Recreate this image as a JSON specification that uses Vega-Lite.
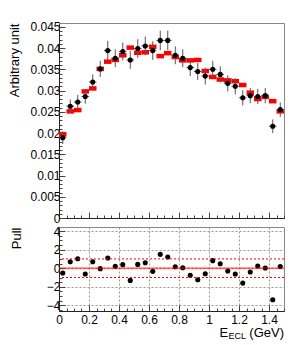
{
  "$schema": "https://vega.github.io/schema/vega-lite/v6.json",
  "padding": {"left": 8, "top": 20, "right": 15, "bottom": 5},
  "spacing": 9,
  "bounds": "flush",
  "data": {"values": [
    {"x": 0.025, "data": 0.0189, "err": 0.0015, "model": 0.0197, "pull": -0.52},
    {"x": 0.075, "data": 0.0263, "err": 0.0016, "model": 0.0251, "pull": 0.70},
    {"x": 0.125, "data": 0.0273, "err": 0.0017, "model": 0.0254, "pull": 1.02},
    {"x": 0.175, "data": 0.0286, "err": 0.0017, "model": 0.0298, "pull": -0.63},
    {"x": 0.225, "data": 0.0320, "err": 0.0018, "model": 0.0305, "pull": 0.70},
    {"x": 0.275, "data": 0.0351, "err": 0.0019, "model": 0.0351, "pull": -0.05},
    {"x": 0.325, "data": 0.0394, "err": 0.0023, "model": 0.0368, "pull": 1.09},
    {"x": 0.375, "data": 0.0376, "err": 0.0021, "model": 0.0372, "pull": 0.20},
    {"x": 0.425, "data": 0.0392, "err": 0.0021, "model": 0.0383, "pull": 0.38},
    {"x": 0.475, "data": 0.0372, "err": 0.0021, "model": 0.0401, "pull": -1.31},
    {"x": 0.525, "data": 0.0399, "err": 0.0022, "model": 0.0389, "pull": 0.41},
    {"x": 0.575, "data": 0.0405, "err": 0.0022, "model": 0.0390, "pull": 0.59},
    {"x": 0.625, "data": 0.0394, "err": 0.0022, "model": 0.0403, "pull": -0.34},
    {"x": 0.675, "data": 0.0418, "err": 0.0023, "model": 0.0381, "pull": 1.49},
    {"x": 0.725, "data": 0.0418, "err": 0.0023, "model": 0.0388, "pull": 1.20},
    {"x": 0.775, "data": 0.0383, "err": 0.0021, "model": 0.0379, "pull": 0.16},
    {"x": 0.825, "data": 0.0376, "err": 0.0021, "model": 0.0371, "pull": 0.05},
    {"x": 0.875, "data": 0.0354, "err": 0.0020, "model": 0.0371, "pull": -0.77},
    {"x": 0.925, "data": 0.0345, "err": 0.0020, "model": 0.0372, "pull": -1.24},
    {"x": 0.975, "data": 0.0334, "err": 0.0020, "model": 0.0346, "pull": -0.59},
    {"x": 1.025, "data": 0.0350, "err": 0.0020, "model": 0.0332, "pull": 0.81},
    {"x": 1.075, "data": 0.0338, "err": 0.0019, "model": 0.0326, "pull": 0.48},
    {"x": 1.125, "data": 0.0317, "err": 0.0019, "model": 0.0324, "pull": -0.30},
    {"x": 1.175, "data": 0.0310, "err": 0.0019, "model": 0.0322, "pull": -0.63},
    {"x": 1.225, "data": 0.0283, "err": 0.0018, "model": 0.0313, "pull": -1.60},
    {"x": 1.275, "data": 0.0288, "err": 0.0018, "model": 0.0295, "pull": -0.41},
    {"x": 1.325, "data": 0.0286, "err": 0.0018, "model": 0.0280, "pull": 0.23},
    {"x": 1.375, "data": 0.0288, "err": 0.0018, "model": 0.0285, "pull": 0.02},
    {"x": 1.425, "data": 0.0216, "err": 0.0016, "model": 0.0275, "pull": -3.39},
    {"x": 1.475, "data": 0.0255, "err": 0.0017, "model": 0.0251, "pull": 0.19}
  ]},
  "vconcat": [
    {
      "width": 225,
      "height": 195,
      "layer": [
        {
          "mark": {"type": "tick", "orient": "horizontal", "color": "#ff0000", "size": 7.5, "thickness": 4.5, "opacity": 1},
          "encoding": {
            "x": {"field": "x", "type": "quantitative", "scale": {"domain": [0, 1.5], "nice": false},
              "axis": {"values": [0,0.05,0.1,0.15,0.2,0.25,0.3,0.35,0.4,0.45,0.5,0.55,0.6,0.65,0.7,0.75,0.8,0.85,0.9,0.95,1,1.05,1.1,1.15,1.2,1.25,1.3,1.35,1.4,1.45,1.5], "labels": false, "title": null, "grid": false, "minExtent": 0, "maxExtent": 0,
                "tickSize": {"condition": {"test": "abs(datum.value*5 - round(datum.value*5)) < 0.01", "value": -6}, "value": -3}}},
            "y": {"field": "model", "type": "quantitative", "scale": {"domain": [0, 0.0459], "nice": false},
              "axis": {"values": [0,0.001,0.002,0.003,0.004,0.005,0.006,0.007,0.008,0.009,0.01,0.011,0.012,0.013,0.014,0.015,0.016,0.017,0.018,0.019,0.02,0.021,0.022,0.023,0.024,0.025,0.026,0.027,0.028,0.029,0.03,0.031,0.032,0.033,0.034,0.035,0.036,0.037,0.038,0.039,0.04,0.041,0.042,0.043,0.044,0.045], "format": "~g",
                "labelExpr": "abs(datum.value*200 - round(datum.value*200)) < 0.01 ? datum.label : ''",
                "tickSize": {"condition": {"test": "abs(datum.value*200 - round(datum.value*200)) < 0.01", "value": -6}, "value": -3},
                "labelPadding": 5, "grid": false, "title": "Arbitrary unit", "titleAnchor": "end", "titlePadding": 8}}
          }
        },
        {
          "mark": {"type": "errorbar", "color": "#555", "thickness": 1},
          "encoding": {
            "x": {"field": "x", "type": "quantitative", "scale": {"domain": [0, 1.5], "nice": false},
              "axis": {"values": [0,0.05,0.1,0.15,0.2,0.25,0.3,0.35,0.4,0.45,0.5,0.55,0.6,0.65,0.7,0.75,0.8,0.85,0.9,0.95,1,1.05,1.1,1.15,1.2,1.25,1.3,1.35,1.4,1.45,1.5], "labels": false, "title": null, "grid": false, "minExtent": 0, "maxExtent": 0,
                "tickSize": {"condition": {"test": "abs(datum.value*5 - round(datum.value*5)) < 0.01", "value": -6}, "value": -3}}},
            "y": {"field": "data", "type": "quantitative", "scale": {"domain": [0, 0.0459], "nice": false},
              "axis": {"values": [0,0.001,0.002,0.003,0.004,0.005,0.006,0.007,0.008,0.009,0.01,0.011,0.012,0.013,0.014,0.015,0.016,0.017,0.018,0.019,0.02,0.021,0.022,0.023,0.024,0.025,0.026,0.027,0.028,0.029,0.03,0.031,0.032,0.033,0.034,0.035,0.036,0.037,0.038,0.039,0.04,0.041,0.042,0.043,0.044,0.045], "format": "~g",
                "labelExpr": "abs(datum.value*200 - round(datum.value*200)) < 0.01 ? datum.label : ''",
                "tickSize": {"condition": {"test": "abs(datum.value*200 - round(datum.value*200)) < 0.01", "value": -6}, "value": -3},
                "labelPadding": 5, "grid": false, "title": "Arbitrary unit", "titleAnchor": "end", "titlePadding": 8}},
            "yError": {"field": "err"}
          }
        },
        {
          "mark": {"type": "tick", "orient": "horizontal", "color": "#555", "size": 7.5, "thickness": 1, "opacity": 1},
          "encoding": {
            "x": {"field": "x", "type": "quantitative", "scale": {"domain": [0, 1.5], "nice": false},
              "axis": {"values": [0,0.05,0.1,0.15,0.2,0.25,0.3,0.35,0.4,0.45,0.5,0.55,0.6,0.65,0.7,0.75,0.8,0.85,0.9,0.95,1,1.05,1.1,1.15,1.2,1.25,1.3,1.35,1.4,1.45,1.5], "labels": false, "title": null, "grid": false, "minExtent": 0, "maxExtent": 0,
                "tickSize": {"condition": {"test": "abs(datum.value*5 - round(datum.value*5)) < 0.01", "value": -6}, "value": -3}}},
            "y": {"field": "data", "type": "quantitative", "scale": {"domain": [0, 0.0459], "nice": false},
              "axis": {"values": [0,0.001,0.002,0.003,0.004,0.005,0.006,0.007,0.008,0.009,0.01,0.011,0.012,0.013,0.014,0.015,0.016,0.017,0.018,0.019,0.02,0.021,0.022,0.023,0.024,0.025,0.026,0.027,0.028,0.029,0.03,0.031,0.032,0.033,0.034,0.035,0.036,0.037,0.038,0.039,0.04,0.041,0.042,0.043,0.044,0.045], "format": "~g",
                "labelExpr": "abs(datum.value*200 - round(datum.value*200)) < 0.01 ? datum.label : ''",
                "tickSize": {"condition": {"test": "abs(datum.value*200 - round(datum.value*200)) < 0.01", "value": -6}, "value": -3},
                "labelPadding": 5, "grid": false, "title": "Arbitrary unit", "titleAnchor": "end", "titlePadding": 8}}
          }
        },
        {
          "mark": {"type": "circle", "color": "#000000", "size": 26, "opacity": 1},
          "encoding": {
            "x": {"field": "x", "type": "quantitative", "scale": {"domain": [0, 1.5], "nice": false},
              "axis": {"values": [0,0.05,0.1,0.15,0.2,0.25,0.3,0.35,0.4,0.45,0.5,0.55,0.6,0.65,0.7,0.75,0.8,0.85,0.9,0.95,1,1.05,1.1,1.15,1.2,1.25,1.3,1.35,1.4,1.45,1.5], "labels": false, "title": null, "grid": false, "minExtent": 0, "maxExtent": 0,
                "tickSize": {"condition": {"test": "abs(datum.value*5 - round(datum.value*5)) < 0.01", "value": -6}, "value": -3}}},
            "y": {"field": "data", "type": "quantitative", "scale": {"domain": [0, 0.0459], "nice": false},
              "axis": {"values": [0,0.001,0.002,0.003,0.004,0.005,0.006,0.007,0.008,0.009,0.01,0.011,0.012,0.013,0.014,0.015,0.016,0.017,0.018,0.019,0.02,0.021,0.022,0.023,0.024,0.025,0.026,0.027,0.028,0.029,0.03,0.031,0.032,0.033,0.034,0.035,0.036,0.037,0.038,0.039,0.04,0.041,0.042,0.043,0.044,0.045], "format": "~g",
                "labelExpr": "abs(datum.value*200 - round(datum.value*200)) < 0.01 ? datum.label : ''",
                "tickSize": {"condition": {"test": "abs(datum.value*200 - round(datum.value*200)) < 0.01", "value": -6}, "value": -3},
                "labelPadding": 5, "grid": false, "title": "Arbitrary unit", "titleAnchor": "end", "titlePadding": 8}}
          }
        }
      ]
    },
    {
      "width": 225,
      "height": 84,
      "layer": [
        {
          "mark": {"type": "circle", "color": "#000000", "size": 26, "opacity": 1},
          "encoding": {
            "x": {"field": "x", "type": "quantitative", "scale": {"domain": [0, 1.5], "nice": false},
              "axis": {"values": [0,0.05,0.1,0.15,0.2,0.25,0.3,0.35,0.4,0.45,0.5,0.55,0.6,0.65,0.7,0.75,0.8,0.85,0.9,0.95,1,1.05,1.1,1.15,1.2,1.25,1.3,1.35,1.4,1.45,1.5], "format": "~g",
                "labelExpr": "abs(datum.value*5 - round(datum.value*5)) < 0.01 ? datum.label : ''",
                "labelFlush": false, "labelPadding": 9, "title": null, "grid": true, "gridDash": [2, 2], "gridColor": "#999",
                "gridOpacity": {"condition": {"test": "abs(datum.value*5 - round(datum.value*5)) < 0.01", "value": 1}, "value": 0},
                "tickSize": {"condition": {"test": "abs(datum.value*5 - round(datum.value*5)) < 0.01", "value": -6}, "value": -3}}},
            "y": {"field": "pull", "type": "quantitative", "scale": {"domain": [-4.6, 4.43], "nice": false},
              "axis": {"values": [-4.5,-4,-3.5,-3,-2.5,-2,-1.5,-1,-0.5,0,0.5,1,1.5,2,2.5,3,3.5,4], "format": "~g",
                "labelExpr": "abs(datum.value/2 - round(datum.value/2)) < 0.01 ? datum.label : ''",
                "labelPadding": 5, "grid": true, "gridDash": [2, 2], "gridColor": "#999",
                "gridOpacity": {"condition": {"test": "abs(datum.value/2 - round(datum.value/2)) < 0.01", "value": 1}, "value": 0},
                "tickSize": {"condition": {"test": "abs(datum.value/2 - round(datum.value/2)) < 0.01", "value": -6}, "value": -3},
                "title": "Pull", "titleAnchor": "end", "titlePadding": 23}}
          }
        },
        {
          "data": {"values": [{}]},
          "mark": {"type": "rule", "color": "#ff0000", "strokeWidth": 2, "opacity": 0.5},
          "encoding": {"y": {"datum": 0, "type": "quantitative", "scale": {"domain": [-4.6, 4.43], "nice": false},
              "axis": {"values": [-4.5,-4,-3.5,-3,-2.5,-2,-1.5,-1,-0.5,0,0.5,1,1.5,2,2.5,3,3.5,4], "format": "~g",
                "labelExpr": "abs(datum.value/2 - round(datum.value/2)) < 0.01 ? datum.label : ''",
                "labelPadding": 5, "grid": true, "gridDash": [2, 2], "gridColor": "#999",
                "gridOpacity": {"condition": {"test": "abs(datum.value/2 - round(datum.value/2)) < 0.01", "value": 1}, "value": 0},
                "tickSize": {"condition": {"test": "abs(datum.value/2 - round(datum.value/2)) < 0.01", "value": -6}, "value": -3},
                "title": "Pull", "titleAnchor": "end", "titlePadding": 23}}}
        },
        {
          "data": {"values": [{"lvl": 1}, {"lvl": -1}]},
          "mark": {"type": "rule", "color": "#ff0000", "strokeWidth": 1, "strokeDash": [2, 2]},
          "encoding": {"y": {"field": "lvl", "type": "quantitative", "scale": {"domain": [-4.6, 4.43], "nice": false},
              "axis": {"values": [-4.5,-4,-3.5,-3,-2.5,-2,-1.5,-1,-0.5,0,0.5,1,1.5,2,2.5,3,3.5,4], "format": "~g",
                "labelExpr": "abs(datum.value/2 - round(datum.value/2)) < 0.01 ? datum.label : ''",
                "labelPadding": 5, "grid": true, "gridDash": [2, 2], "gridColor": "#999",
                "gridOpacity": {"condition": {"test": "abs(datum.value/2 - round(datum.value/2)) < 0.01", "value": 1}, "value": 0},
                "tickSize": {"condition": {"test": "abs(datum.value/2 - round(datum.value/2)) < 0.01", "value": -6}, "value": -3},
                "title": "Pull", "titleAnchor": "end", "titlePadding": 23}}}
        },
        {
          "data": {"values": [{"label": "E", "px": 1.07, "py": -7.35}]},
          "mark": {"type": "text", "fontSize": 13, "align": "left", "baseline": "alphabetic", "color": "#000"},
          "encoding": {
            "text": {"field": "label"},
            "x": {"field": "px", "type": "quantitative", "scale": {"domain": [0, 1.5], "nice": false},
              "axis": {"values": [0,0.05,0.1,0.15,0.2,0.25,0.3,0.35,0.4,0.45,0.5,0.55,0.6,0.65,0.7,0.75,0.8,0.85,0.9,0.95,1,1.05,1.1,1.15,1.2,1.25,1.3,1.35,1.4,1.45,1.5], "format": "~g",
                "labelExpr": "abs(datum.value*5 - round(datum.value*5)) < 0.01 ? datum.label : ''",
                "labelFlush": false, "labelPadding": 9, "title": null, "grid": true, "gridDash": [2, 2], "gridColor": "#999",
                "gridOpacity": {"condition": {"test": "abs(datum.value*5 - round(datum.value*5)) < 0.01", "value": 1}, "value": 0},
                "tickSize": {"condition": {"test": "abs(datum.value*5 - round(datum.value*5)) < 0.01", "value": -6}, "value": -3}}},
            "y": {"field": "py", "type": "quantitative", "scale": {"domain": [-4.6, 4.43], "nice": false},
              "axis": {"values": [-4.5,-4,-3.5,-3,-2.5,-2,-1.5,-1,-0.5,0,0.5,1,1.5,2,2.5,3,3.5,4], "format": "~g",
                "labelExpr": "abs(datum.value/2 - round(datum.value/2)) < 0.01 ? datum.label : ''",
                "labelPadding": 5, "grid": true, "gridDash": [2, 2], "gridColor": "#999",
                "gridOpacity": {"condition": {"test": "abs(datum.value/2 - round(datum.value/2)) < 0.01", "value": 1}, "value": 0},
                "tickSize": {"condition": {"test": "abs(datum.value/2 - round(datum.value/2)) < 0.01", "value": -6}, "value": -3},
                "title": "Pull", "titleAnchor": "end", "titlePadding": 23}}
          }
        },
        {
          "data": {"values": [{"label": "(GeV)", "px": 1.5, "py": -7.35}]},
          "mark": {"type": "text", "fontSize": 13, "align": "right", "baseline": "alphabetic", "color": "#000"},
          "encoding": {
            "text": {"field": "label"},
            "x": {"field": "px", "type": "quantitative", "scale": {"domain": [0, 1.5], "nice": false},
              "axis": {"values": [0,0.05,0.1,0.15,0.2,0.25,0.3,0.35,0.4,0.45,0.5,0.55,0.6,0.65,0.7,0.75,0.8,0.85,0.9,0.95,1,1.05,1.1,1.15,1.2,1.25,1.3,1.35,1.4,1.45,1.5], "format": "~g",
                "labelExpr": "abs(datum.value*5 - round(datum.value*5)) < 0.01 ? datum.label : ''",
                "labelFlush": false, "labelPadding": 9, "title": null, "grid": true, "gridDash": [2, 2], "gridColor": "#999",
                "gridOpacity": {"condition": {"test": "abs(datum.value*5 - round(datum.value*5)) < 0.01", "value": 1}, "value": 0},
                "tickSize": {"condition": {"test": "abs(datum.value*5 - round(datum.value*5)) < 0.01", "value": -6}, "value": -3}}},
            "y": {"field": "py", "type": "quantitative", "scale": {"domain": [-4.6, 4.43], "nice": false},
              "axis": {"values": [-4.5,-4,-3.5,-3,-2.5,-2,-1.5,-1,-0.5,0,0.5,1,1.5,2,2.5,3,3.5,4], "format": "~g",
                "labelExpr": "abs(datum.value/2 - round(datum.value/2)) < 0.01 ? datum.label : ''",
                "labelPadding": 5, "grid": true, "gridDash": [2, 2], "gridColor": "#999",
                "gridOpacity": {"condition": {"test": "abs(datum.value/2 - round(datum.value/2)) < 0.01", "value": 1}, "value": 0},
                "tickSize": {"condition": {"test": "abs(datum.value/2 - round(datum.value/2)) < 0.01", "value": -6}, "value": -3},
                "title": "Pull", "titleAnchor": "end", "titlePadding": 23}}
          }
        },
        {
          "data": {"values": [{"label": "ECL", "px": 1.13, "py": -7.6}]},
          "mark": {"type": "text", "fontSize": 9, "align": "left", "baseline": "alphabetic", "color": "#000"},
          "encoding": {
            "text": {"field": "label"},
            "x": {"field": "px", "type": "quantitative", "scale": {"domain": [0, 1.5], "nice": false},
              "axis": {"values": [0,0.05,0.1,0.15,0.2,0.25,0.3,0.35,0.4,0.45,0.5,0.55,0.6,0.65,0.7,0.75,0.8,0.85,0.9,0.95,1,1.05,1.1,1.15,1.2,1.25,1.3,1.35,1.4,1.45,1.5], "format": "~g",
                "labelExpr": "abs(datum.value*5 - round(datum.value*5)) < 0.01 ? datum.label : ''",
                "labelFlush": false, "labelPadding": 9, "title": null, "grid": true, "gridDash": [2, 2], "gridColor": "#999",
                "gridOpacity": {"condition": {"test": "abs(datum.value*5 - round(datum.value*5)) < 0.01", "value": 1}, "value": 0},
                "tickSize": {"condition": {"test": "abs(datum.value*5 - round(datum.value*5)) < 0.01", "value": -6}, "value": -3}}},
            "y": {"field": "py", "type": "quantitative", "scale": {"domain": [-4.6, 4.43], "nice": false},
              "axis": {"values": [-4.5,-4,-3.5,-3,-2.5,-2,-1.5,-1,-0.5,0,0.5,1,1.5,2,2.5,3,3.5,4], "format": "~g",
                "labelExpr": "abs(datum.value/2 - round(datum.value/2)) < 0.01 ? datum.label : ''",
                "labelPadding": 5, "grid": true, "gridDash": [2, 2], "gridColor": "#999",
                "gridOpacity": {"condition": {"test": "abs(datum.value/2 - round(datum.value/2)) < 0.01", "value": 1}, "value": 0},
                "tickSize": {"condition": {"test": "abs(datum.value/2 - round(datum.value/2)) < 0.01", "value": -6}, "value": -3},
                "title": "Pull", "titleAnchor": "end", "titlePadding": 23}}
          }
        }
      ]
    }
  ],
  "config": {
    "font": "Liberation Sans",
    "view": {"stroke": "#888", "strokeWidth": 1},
    "axis": {
      "domainColor": "#222",
      "tickColor": "#444",
      "labelColor": "#000",
      "labelFontSize": 12,
      "labelOverlap": false,
      "titleFontSize": 13,
      "titleFontWeight": "normal",
      "titleColor": "#000"
    }
  }
}
